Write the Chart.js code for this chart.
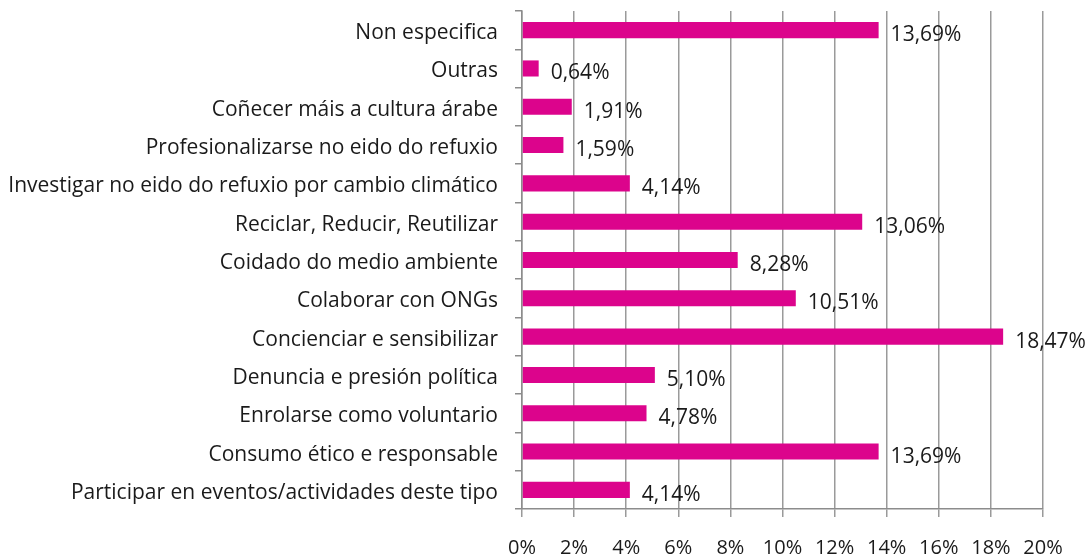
<!DOCTYPE html>
<html>
<head>
<meta charset="utf-8">
<script src="https://cdn.jsdelivr.net/npm/chart.js@4/dist/chart.umd.min.js"></script>
<style>
  html, body { margin: 0; padding: 0; background: #fff; }
  #wrap { width: 1089px; height: 556px; }
</style>
</head>
<body>
<div id="wrap"><canvas id="grafico" width="1089" height="556"></canvas></div>
<script>
// categorías (de arriba abajo)
const categorias = [
  'Non especifica',
  'Outras',
  'Coñecer máis a cultura árabe',
  'Profesionalizarse no eido do refuxio',
  'Investigar no eido do refuxio por cambio climático',
  'Reciclar, Reducir, Reutilizar',
  'Coidado do medio ambiente',
  'Colaborar con ONGs',
  'Concienciar e sensibilizar',
  'Denuncia e presión política',
  'Enrolarse como voluntario',
  'Consumo ético e responsable',
  'Participar en eventos/actividades deste tipo'
];

// porcentaxes
const valores = [13.69, 0.64, 1.91, 1.59, 4.14, 13.06, 8.28, 10.51, 18.47, 5.10, 4.78, 13.69, 4.14];

// ticks do eixo x
const ticksX = [0, 2, 4, 6, 8, 10, 12, 14, 16, 18, 20];

const fmt = v => v.toFixed(2).replace('.', ',') + '%';
const fonte = '"Open Sans", sans-serif';

// etiquetas de valor á dereita das barras
const etiquetas = {
  id: 'etiquetas',
  afterDatasetsDraw(chart) {
    const ctx = chart.ctx;
    const meta = chart.getDatasetMeta(0);
    ctx.save();
    ctx.font = '21px ' + fonte;
    ctx.fillStyle = '#1a1a1a';
    ctx.textAlign = 'left';
    ctx.textBaseline = 'middle';
    meta.data.forEach((bar, i) => {
      ctx.fillText(fmt(valores[i]), bar.x + 12, bar.y + 5);
    });
    ctx.restore();
  }
};

const ctx = document.getElementById('grafico').getContext('2d');
new Chart(ctx, {
  type: 'bar',
  data: {
    labels: categorias,
    datasets: [{
      data: valores,
      backgroundColor: '#dc048c',
      borderWidth: 0,
      categoryPercentage: 0.42,
      barPercentage: 1
    }]
  },
  plugins: [etiquetas],
  options: {
    indexAxis: 'y',
    responsive: false,
    animation: false,
    layout: { padding: { top: 11, right: 46, bottom: 0, left: 0 } },
    plugins: {
      legend: { display: false },
      tooltip: { enabled: false }
    },
    scales: {
      x: {
        min: 0,
        max: 20,
        afterBuildTicks: axis => { axis.ticks = ticksX.map(v => ({ value: v })); },
        afterFit: axis => { axis.height = 47; },
        border: { color: '#8c8c8c', width: 1.5 },
        grid: { color: '#9a9a9a', lineWidth: 1.5, tickLength: 8 },
        ticks: {
          color: '#1a1a1a',
          padding: 19,
          font: { family: fonte, size: 20 },
          callback: v => v + '%'
        }
      },
      y: {
        afterFit: axis => { axis.width = 522; axis.paddingTop = 0; axis.paddingBottom = 0; },
        border: { color: '#8c8c8c', width: 1.5 },
        grid: { drawOnChartArea: false, color: '#8c8c8c', lineWidth: 1.5, tickLength: 7 },
        ticks: {
          color: '#1a1a1a',
          padding: 17,
          labelOffset: 3,
          font: { family: fonte, size: 21 }
        }
      }
    }
  }
});
</script>
</body>
</html>
